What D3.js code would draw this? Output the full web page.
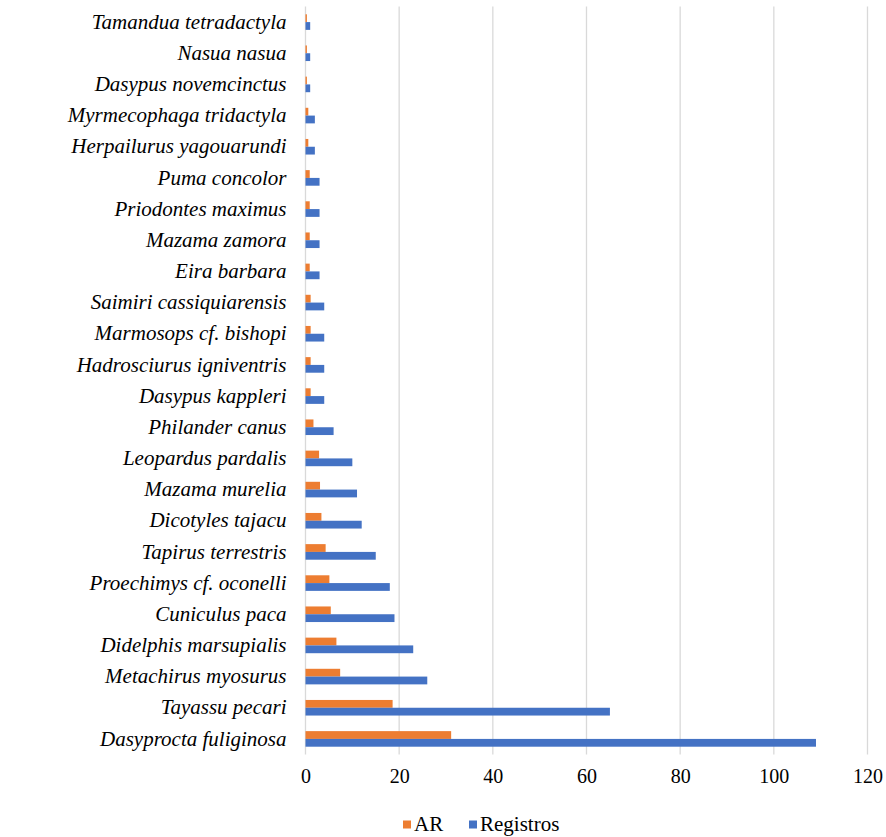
<!DOCTYPE html>
<html>
<head>
<meta charset="utf-8">
<script src="https://cdn.jsdelivr.net/npm/d3@7"></script>
<style>
  html, body { margin: 0; padding: 0; background: #fff; }
  svg { display: block; }
  .serif { font-family: "Liberation Serif", "Times New Roman", Times, "Nimbus Roman", "DejaVu Serif", serif; }
</style>
</head>
<body>
<svg id="chart" width="886" height="837"></svg>
<script>
// Species, listed from top to bottom
const species = [
  "Tamandua tetradactyla", "Nasua nasua", "Dasypus novemcinctus",
  "Myrmecophaga tridactyla", "Herpailurus yagouarundi", "Puma concolor",
  "Priodontes maximus", "Mazama zamora", "Eira barbara",
  "Saimiri cassiquiarensis", "Marmosops cf. bishopi", "Hadrosciurus igniventris",
  "Dasypus kappleri", "Philander canus", "Leopardus pardalis",
  "Mazama murelia", "Dicotyles tajacu", "Tapirus terrestris",
  "Proechimys cf. oconelli", "Cuniculus paca", "Didelphis marsupialis",
  "Metachirus myosurus", "Tayassu pecari", "Dasyprocta fuliginosa"
];

// Relative abundance per species
const arValues = [
  0.3, 0.3, 0.3, 0.6, 0.6, 0.9, 0.9, 0.9, 0.9, 1.1, 1.1, 1.1,
  1.1, 1.7, 2.9, 3.1, 3.4, 4.3, 5.1, 5.4, 6.6, 7.4, 18.6, 31.1
];

// Number of records per species
const registrosValues = [
  1, 1, 1, 2, 2, 3, 3, 3, 3, 4, 4, 4,
  4, 6, 10, 11, 12, 15, 18, 19, 23, 26, 65, 109
];

const xTicks = [0, 20, 40, 60, 80, 100, 120];

const seriesNames = ["AR", "Registros"];
const seriesColors = ["#ED7D31", "#4472C4"];

const svg = d3.select("#chart");
const margin = { top: 6.5, left: 305.5, right: 18.5, bottom: 82.5 };
const width = 886, height = 837;

const x = d3.scaleLinear()
  .domain([0, 120])
  .range([margin.left, width - margin.right]);

const y = d3.scaleBand()
  .domain(species)
  .range([margin.top, height - margin.bottom])
  .paddingInner(0.5)
  .paddingOuter(0.25);

const sub = d3.scaleBand()
  .domain(seriesNames)
  .range([0, y.bandwidth()]);

// Vertical gridlines
svg.append("g")
  .selectAll("line")
  .data(xTicks)
  .join("line")
  .attr("x1", d => x(d)).attr("x2", d => x(d))
  .attr("y1", margin.top).attr("y2", height - margin.bottom)
  .attr("stroke", "#d9d9d9")
  .attr("stroke-width", 1.3);

// Bars
const rows = species.map((s, i) => ({ s, AR: arValues[i], Registros: registrosValues[i] }));
const groups = svg.append("g")
  .selectAll("g")
  .data(rows)
  .join("g")
  .attr("transform", d => `translate(0,${y(d.s)})`);

groups.selectAll("rect")
  .data(d => seriesNames.map((k, j) => ({ k, v: d[k], c: seriesColors[j] })))
  .join("rect")
  .attr("x", x(0))
  .attr("y", d => sub(d.k))
  .attr("width", d => x(d.v) - x(0))
  .attr("height", sub.bandwidth())
  .attr("fill", d => d.c);

// Category axis (labels only)
const yAxis = svg.append("g")
  .attr("transform", `translate(${x(0) - 7},0)`)
  .call(d3.axisLeft(y).tickSize(0).tickPadding(12));
yAxis.attr("font-family", null).attr("font-size", null);
yAxis.select(".domain").remove();
yAxis.selectAll("text")
  .attr("class", "serif")
  .style("font-style", "italic")
  .style("font-size", "21px")
  .attr("fill", "#000");

// Value axis (labels only)
const xAxis = svg.append("g")
  .attr("transform", `translate(0,${height - margin.bottom})`)
  .call(d3.axisBottom(x).tickValues(xTicks).tickSize(0).tickPadding(14).tickFormat(d3.format("d")));
xAxis.attr("font-family", null).attr("font-size", null);
xAxis.select(".domain").remove();
xAxis.selectAll("text")
  .attr("class", "serif")
  .style("font-size", "20px")
  .attr("fill", "#000");

// Legend
const legendItems = [
  { name: "AR", color: seriesColors[0], x: 403 },
  { name: "Registros", color: seriesColors[1], x: 469 }
];
const legend = svg.append("g");
legendItems.forEach(it => {
  legend.append("rect")
    .attr("x", it.x).attr("y", 820.5)
    .attr("width", 8).attr("height", 8)
    .attr("fill", it.color);
  legend.append("text")
    .attr("class", "serif")
    .attr("x", it.x + 11).attr("y", 831)
    .style("font-size", "21px")
    .attr("fill", "#000")
    .text(it.name);
});
</script>
</body>
</html>
